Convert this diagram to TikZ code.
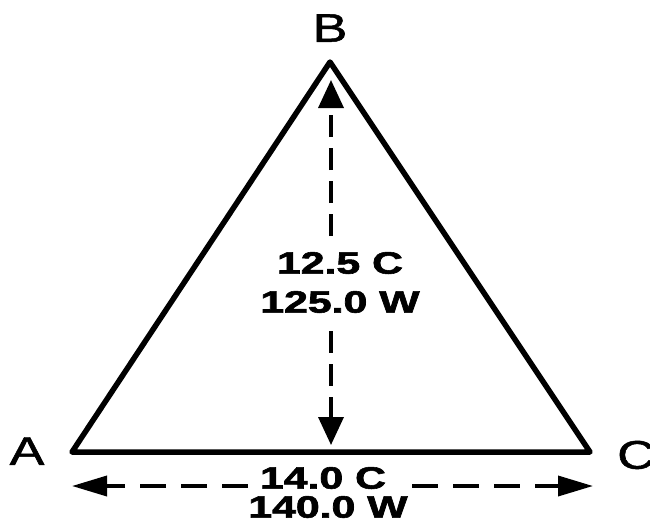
\documentclass[tikz,border=0pt]{standalone}
\usepackage{fontspec}
\setmainfont{Liberation Sans}
\newfontfamily\heavyfont{Liberation Sans Bold}[FakeBold=1.8]
\newfontfamily\vertexfont{Liberation Sans}[FakeBold=1.2]
\usetikzlibrary{arrows.meta}
\tikzset{
  edge/.style={line width=5.5pt, line join=round},
  vdim/.style={line width=3.6pt, dash pattern=on 22pt off 11pt, -{Triangle[width=25pt,length=28pt]}},
  hdim/.style={line width=3.6pt, dash pattern=on 26pt off 15pt, -{Triangle[width=20pt,length=35pt]}},
  val/.style={font=\heavyfont\fontsize{31}{31}\selectfont, inner sep=0pt},
  vertex/.style={font=\vertexfont\fontsize{40}{40}\selectfont, inner sep=0pt}
}
\begin{document}
\begin{tikzpicture}[x=1pt,y=-1pt]
\useasboundingbox (0,0) rectangle (650,523);
\coordinate (A) at (72,452);
\coordinate (B) at (330,62);
\coordinate (C) at (590,452);
\draw[edge] (A) -- (B) -- (C) -- cycle;
\node[vertex] (la) at (27,451) {\scalebox{1.3}[1]{A}};
\node[vertex] (lb) at (330,28) {\scalebox{1.3}[1]{B}};
\node[vertex] (lc) at (636,455) {\scalebox{1.3}[1]{C}};
% vertical dimension
\node[val] (h1) at (340,263) {\scalebox{1.38}[1]{12.5 C}};
\node[val] (h2) at (340,302) {\scalebox{1.38}[1]{125.0 W}};
\coordinate (vt) at (331,80);
\coordinate (vb) at (331,445);
\coordinate (vs1) at (331,236);
\coordinate (vs2) at (331,331);
\draw[vdim] (vs1) -- (vt);
\draw[vdim] (vs2) -- (vb);
% horizontal dimension
\node[val] (b1) at (323,478) {\scalebox{1.38}[1]{14.0 C}};
\node[val] (b2) at (328,507) {\scalebox{1.38}[1]{140.0 W}};
\coordinate (hl) at (72,486);
\coordinate (hr) at (593,486);
\coordinate (hs1) at (248,486);
\coordinate (hs2) at (412,486);
\draw[hdim] (hs1) -- (hl);
\draw[hdim] (hs2) -- (hr);
\end{tikzpicture}
\end{document}
